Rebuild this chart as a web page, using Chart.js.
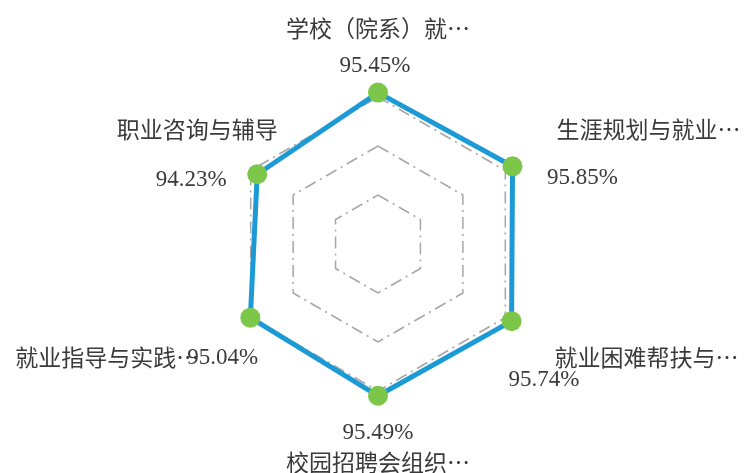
<!DOCTYPE html>
<html>
<head>
<meta charset="utf-8">
<script src="https://cdn.jsdelivr.net/npm/chart.js@4/dist/chart.umd.min.js"></script>
<style>
  html, body { margin: 0; padding: 0; background: #ffffff; }
  #wrap { width: 746px; height: 473px; }
</style>
</head>
<body>
<div id="wrap"><canvas id="graficoRadar" width="746" height="473"></canvas></div>
<script>
// categorias e valores (%)
const categorias = [
  "学校（院系）就…",
  "生涯规划与就业…",
  "就业困难帮扶与…",
  "校园招聘会组织…",
  "就业指导与实践…",
  "职业咨询与辅导"
];
const valores = [95.45, 95.85, 95.74, 95.49, 95.04, 94.23];
const escalaMin = 80;
const escalaMax = 100;
const passo = 5;

// onde fica cada rótulo em relação ao ponto (nome / valor)
const posRotulos = [
  { nome: [0, -64, "center"], valor: [-3, -27, "center"] },
  { nome: [44, -37, "left"], valor: [70, 12, "center"] },
  { nome: [43, 36, "left"], valor: [-3, 59, "left"] },
  { nome: [0, 66, "center"], valor: [0, 37, "center"] },
  { nome: [-51, 40, "right"], valor: [-63, 40, "left"] },
  { nome: [-60, -45, "center"], valor: [-66, 6, "center"] }
];

const fonteNome = "23px 'Noto Sans CJK SC', sans-serif";
const fonteValor = "23px 'Liberation Serif', serif";

const rotulosPlugin = {
  id: "rotulos",
  afterDatasetsDraw(chart) {
    const ctx = chart.ctx;
    const meta = chart.getDatasetMeta(0);
    ctx.save();
    ctx.fillStyle = "#3a3a3a";
    ctx.textBaseline = "middle";
    meta.data.forEach((pt, i) => {
      const p = posRotulos[i];
      ctx.font = fonteNome;
      ctx.textAlign = p.nome[2];
      ctx.fillText(categorias[i], pt.x + p.nome[0], pt.y + p.nome[1]);
      ctx.font = fonteValor;
      ctx.textAlign = p.valor[2];
      ctx.fillText(valores[i].toFixed(2) + "%", pt.x + p.valor[0], pt.y + p.valor[1]);
    });
    ctx.restore();
  }
};

const ctx = document.getElementById("graficoRadar");

let graficoRadar = new Chart(ctx, {
  type: "radar",
  data: {
    labels: categorias,
    datasets: [
      {
        label: "满意度",
        data: valores,
        borderColor: "#1b9ad6",
        borderWidth: 5,
        backgroundColor: "rgba(0,0,0,0)",
        fill: false,
        pointRadius: 10,
        pointBackgroundColor: "#7cc64a",
        pointBorderColor: "#7cc64a",
        pointBorderWidth: 0,
        tension: 0
      }
    ]
  },
  options: {
    responsive: false,
    animation: false,
    layout: {
      padding: { top: 48, bottom: 33, left: 10, right: 0 }
    },
    plugins: {
      legend: { display: false },
      tooltip: { enabled: false }
    },
    scales: {
      r: {
        min: escalaMin,
        max: escalaMax,
        ticks: { display: false, stepSize: passo },
        angleLines: { display: false },
        pointLabels: { display: false },
        grid: {
          color: (c) => (c.tick && c.tick.value >= escalaMax ? "rgba(0,0,0,0)" : "#a6a6a6"),
          lineWidth: 1.5
        },
        border: {
          dash: [12, 5, 2, 5]
        }
      }
    }
  },
  plugins: [rotulosPlugin]
});
</script>
</body>
</html>
